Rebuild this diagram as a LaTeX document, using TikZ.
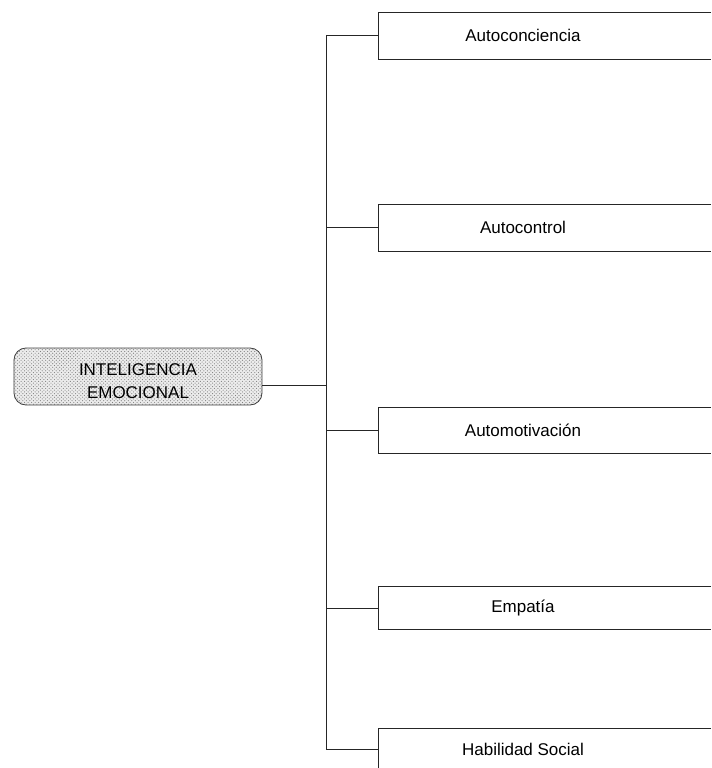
\documentclass[tikz,border=0pt]{standalone}
\usepackage{fontspec}
\setmainfont{Liberation Sans}
\usetikzlibrary{patterns}
\tikzset{
  raiz/.style={draw=black!75, line width=0.7pt, rounded corners=0.36cm,
    preaction={fill=gray!15}, pattern=crosshatch dots, pattern color=gray,
    minimum width=7.44cm, minimum height=1.71cm},
  raiztexto/.style={align=center, font=\fontsize{14.5}{20}\selectfont},
  rama/.style={font=\fontsize{14.5}{17}\selectfont},
  linea/.style={black!85, line width=0.7pt},
}
\begin{document}
\begin{tikzpicture}[x=0.03cm,y=-0.03cm]
        \useasboundingbox (0,0) rectangle (711,768);
        \node[raiz] (ie) at (138,376.5) {};
        \node[raiztexto] (ietexto) at (138,381) {INTELIGENCIA\\EMOCIONAL};
        \coordinate (tA) at (326,35);
        \coordinate (tB) at (326,749);
        \coordinate (tM) at (326,385);
        \draw[linea] (tA) -- (tB) ;
        \draw[linea] (ie.east |- tM) -- (tM) ;
        \foreach \n/\sup/\inf/\con/\txt in {c1/12/59/35/Autoconciencia,
                c2/204/251/227/Autocontrol,
                c3/407/453/430/Automotivación,
                c4/586/629/608/Empatía,
                c5/728/790/749/Habilidad Social}
        {
        \node[rama] (\n) at (523,\con) {\txt};
        \coordinate (\n w) at (378,\con);
        \draw[linea] (711,\sup) -- (378,\sup) -- (378,\inf) -- (711,\inf) ;
        \draw[linea] (tA |- \n w) -- (\n w) ;
        }
        \end{tikzpicture}
\end{document}
